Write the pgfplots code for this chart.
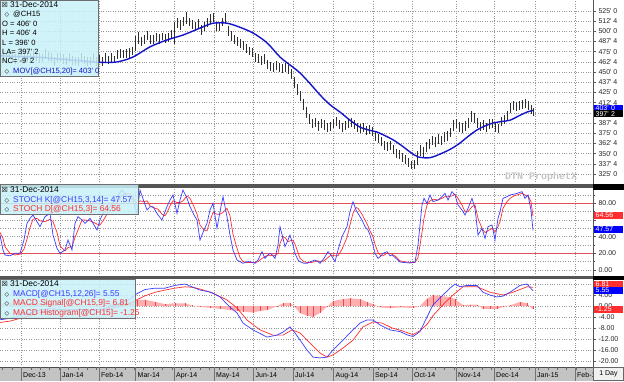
\documentclass[border=0pt]{standalone}
\usepackage{pgfplots}
\pgfplotsset{compat=1.18}
\usepackage{pgfplotstable}
\usepackage{fontspec}
\setmainfont{Liberation Sans}
\newfontfamily\dejavu{DejaVu Sans}
\newfontfamily\monof{Liberation Mono}

\definecolor{legbg}{RGB}{200,240,248}
\definecolor{legbd}{RGB}{110,110,110}
\definecolor{barc}{RGB}{45,45,45}
\definecolor{mablue}{RGB}{20,20,200}
\definecolor{kblue}{RGB}{60,60,255}
\definecolor{dred}{RGB}{255,45,45}
\definecolor{histred}{RGB}{240,70,70}
\definecolor{histfill}{RGB}{255,175,175}
\definecolor{lvlred}{RGB}{225,80,90}
\definecolor{gridc}{RGB}{150,150,150}
\definecolor{sepc}{RGB}{85,85,85}
\definecolor{stripc}{RGB}{195,195,195}

\pgfdeclareplotmark{closetick}{\pgfpathmoveto{\pgfpoint{0pt}{0pt}}\pgfpathlineto{\pgfpoint{1.3pt}{0pt}}\pgfusepathqstroke}
\newcommand{\q}[2]{#1\textquotesingle\ #2}
\newcommand{\lf}{\fontsize{7.6}{9}\selectfont}
\newcommand{\lgf}{\fontsize{8.4}{9}\selectfont}
\newcommand{\tf}{\fontsize{7}{8}\selectfont}
\newcommand{\ic}{{\dejavu\fontsize{6}{6}\selectfont ◇}}
\newcommand{\bx}{{\dejavu\fontsize{7}{7}\selectfont ☒}}

\pgfplotstableread{
x hi lo cl
0 473 462 468
3 472 462 466
6 473 462 469
9 478 466 471
12 473 463 468
15 472 460 466
18 474 465 470
21 479 468 472
24 474 463 469
27 473 463 467
30 474 463 470
33 478 466 471
36 474 464 469
39 473 461 467
42 472 463 468
45 478 467 471
48 475 464 470
51 473 463 467
54 469 458 465
57 474 462 467
60 474 464 469
63 472 460 466
66 468 459 464
69 473 462 466
72 470 459 465
75 469 459 463
78 469 458 465
81 474 462 467
84 470 460 465
87 469 457 463
90 468 459 464
93 473 462 466
96 469 458 464
99 471 461 465
102 468 457 464
105 473 461 466
108 470 460 465
111 473 461 467
114 470 461 466
117 477 466 470
120 478 467 473
123 477 467 471
126 478 467 474
129 479 467 472
132 481 471 476
135 494 476 488
138 499 485 492
141 493 482 486
144 495 484 490
147 500 490 494
150 495 484 491
153 496 484 489
156 498 488 493
159 497 485 491
162 498 489 494
165 497 486 490
168 498 487 493
171 502 492 496
174 512 484 505
177 517 504 510
180 514 502 508
183 518 507 512
186 524 509 516
189 517 506 511
192 514 503 508
195 512 500 506
198 515 503 510
201 508 496 502
204 512 501 506
207 516 505 511
210 521 509 515
213 522 511 517
216 512 501 506
219 511 500 505
222 517 506 512
225 523 510 516
228 507 494 500
231 500 488 494
234 495 484 490
237 493 482 487
240 491 480 485
243 488 477 482
246 484 473 478
249 481 471 476
252 479 468 474
255 473 462 468
258 472 461 466
261 470 459 464
264 472 460 466
267 465 454 460
270 463 451 457
273 461 450 455
276 464 453 458
279 461 450 456
282 460 449 454
285 461 450 456
288 459 448 453
291 454 442 448
294 444 431 437
297 435 422 428
300 427 414 420
303 417 404 410
306 407 394 400
309 399 386 392
312 393 381 386
315 394 383 388
318 390 378 384
321 393 381 387
324 391 379 385
327 388 377 382
330 389 378 384
333 393 382 387
336 395 384 389
339 391 380 385
342 388 377 382
345 390 379 384
348 393 381 387
351 394 383 389
354 391 380 385
357 388 377 383
360 386 375 380
363 387 376 381
366 384 373 378
369 385 374 380
372 383 372 377
375 378 366 372
378 374 363 368
381 370 359 364
384 366 355 360
387 364 353 358
390 366 355 361
393 361 350 355
396 356 345 350
399 354 343 348
402 351 340 346
405 348 337 342
408 344 333 338
411 341 331 336
414 342 331 336
417 353 336 348
420 360 347 354
423 358 346 352
426 364 352 359
429 368 356 362
432 372 360 366
435 370 358 364
438 374 362 368
441 372 360 366
444 376 364 370
447 378 366 372
450 382 370 376
453 391 378 385
456 393 382 388
459 389 377 383
462 387 375 381
465 390 378 384
468 394 382 388
471 402 389 396
474 400 388 394
477 394 382 388
480 389 378 383
483 391 379 385
486 388 377 382
489 392 380 386
492 393 382 388
495 389 377 383
498 386 375 380
501 395 384 390
504 397 386 392
507 402 390 396
510 412 400 406
513 414 403 409
516 413 402 407
519 415 404 409
522 416 405 410
525 417 406 411
528 414 403 408
531 410 399 404
533 406.5 396 397.25
}\price

\pgfplotstableread{
x ma
0 470
20 469
40 468
60 466
80 464
100 462
117 462.5
133 468.5
150 481
167 489.5
183 495.5
200 504
213 510
227 510
240 505
253 498
267 486
280 468.5
293 456
300 449
310 436
320 422
330 410
340 401
350 391
360 382.5
370 378.5
377 376.5
385 372
393 367
402 359.5
410 352
418 346
430 345
443 351
452 356.5
460 363
468 371
477 379
485 384
493 387.5
502 389.5
510 391
520 397
527 401
533 403
}\mav

\pgfplotstableread{
x k d
0 42 45
3 24 38
5 18 28
10 17 20
15 20 18
20 20 19
24 36 25
27 56 37
30 62 51
33 66 61
37 58 62
40 52 59
45 64 58
50 68 61
53 42 58
57 26 45
60 20 29
65 24 23
68 36 27
72 24 28
75 56 39
78 64 48
82 60 60
85 56 60
90 62 59
94 54 57
97 48 55
100 60 54
103 68 59
107 72 67
110 76 72
115 84 77
119 91 84
122 96 90
126 90 92
130 86 91
133 84 87
137 68 79
140 96 83
144 82 82
147 72 83
150 76 77
153 76 75
158 66 73
162 60 67
165 70 65
167 76 69
170 84 77
173 90 83
177 68 81
180 84 81
183 96 83
187 86 89
190 76 86
194 66 76
197 60 67
200 36 54
204 48 48
207 56 47
210 72 59
213 80 69
217 50 67
220 70 67
223 88 69
227 64 74
230 42 65
233 24 43
237 12 26
240 10 15
243 8 10
247 10 9
250 10 9
255 8 9
258 12 10
262 22 14
265 14 16
268 18 18
270 20 17
273 17 18
275 14 17
278 30 20
280 52 32
283 38 40
285 28 39
288 36 34
290 42 35
293 30 36
295 20 31
298 12 21
300 10 14
304 8 10
307 8 9
311 10 9
315 12 10
318 10 11
320 8 10
324 14 11
328 22 15
331 18 18
335 10 17
338 24 17
342 40 25
347 52 39
350 70 54
353 82 68
356 72 75
358 68 74
362 60 67
365 52 60
368 48 53
370 42 47
373 30 40
375 20 31
378 14 21
381 17 17
383 20 17
387 22 20
390 17 20
392 18 19
396 14 16
400 9.6 11
404 9 10
410 8.4 9
415 9.6 9
418 30 15
422 78 45
424 86 62
427 80 78
430 90 83
433 82 85
438 84 84
442 88 86
445 92 88
448 84 88
452 94 89
455 90 91
458 78 86
462 72 78
465 66 70
468 74 70
472 86 76
475 74 78
478 42 62
482 50 50
485 38 45
488 52 47
492 54 50
495 36 46
498 62 52
500 70 58
503 86 74
507 88 82
510 90 86
514 91 89
517 92 90
522 94 92
525 86 90
528 90 89
531 72 82
533 47.57 64.56
}\stoch

\pgfplotstableread{
x m
0 -5
10 -4.5
20 -3.5
30 -2.5
40 -1.5
50 -1
60 -1.2
70 -1.5
80 -1.2
90 -1.5
100 -1.2
110 -0.5
120 1
130 2.5
137 4.5
145 6
155 6.5
165 6.5
175 7.5
185 8
192 7
200 5.8
210 5.1
220 3.3
230 -0.4
237 -2.5
243 -6.2
253 -8.7
260 -10
267 -11.3
277 -10.6
283 -9.5
290 -7.6
295 -9.8
300 -12.4
307 -16
313 -18.6
320 -18.9
327 -18.6
333 -16
340 -13.5
350 -9.8
360 -6.2
367 -5.1
373 -5.1
380 -6.9
390 -8.7
400 -9.3
407 -10.5
413 -11.1
420 -9.3
427 -4
433 0.4
440 3
450 6.5
455 8
460 7
467 7.5
477 7.5
483 5
490 4
497 3.3
503 3.6
510 5
520 7.5
527 8
533 5.55
}\macdline

\pgfplotstableread{
x s
0 -6
10 -5.5
20 -4.5
30 -3.5
40 -2.5
50 -1.8
60 -1.3
70 -1.3
80 -1.4
90 -1.3
100 -1.3
110 -1
120 0
130 1
137 2.3
145 3.7
155 5
165 5.8
175 6.5
185 7
192 6.8
200 6.2
213 4.7
227 2.2
237 -0.7
247 -5.1
260 -8.7
273 -10.6
283 -10.6
292 -8.7
300 -9.8
310 -13.5
320 -17.1
327 -18.6
333 -17.8
343 -15.3
353 -12.4
363 -7.6
373 -5.8
382 -6.2
392 -8
400 -8.8
413 -10.4
420 -9
427 -6.7
433 -3.5
440 -0.7
447 2
453 4
463 7
477 7
490 5
503 4
513 5
520 6
527 7
533 6.81
}\signal

\pgfplotstableread{
x h
0 1
20 1
40 1
50 0.8
60 0.1
70 -0.2
80 0.2
90 -0.2
100 0.1
110 0.5
120 1
130 1.5
137 2.2
145 2.3
155 1.5
165 0.7
175 1
185 1
192 0.2
200 -0.4
210 -0.6
220 -1
230 -1.5
237 -1.8
243 -2
253 -2.4
260 -1.8
267 -1.5
277 -0.1
283 1
290 1.2
295 -0.5
300 -2.6
307 -3.5
313 -4
320 -2.5
327 -0.3
333 1.8
343 2.5
350 2.8
360 2.5
367 1.5
373 0.7
380 -0.5
390 -0.8
400 -0.5
413 -0.7
420 0
427 2.7
433 3.9
440 3.7
450 3.2
455 2.5
463 0.3
470 0.5
477 0.5
483 -1
490 -1
497 -1
503 -0.4
510 0.2
520 1.5
527 1
533 -1.26
}\hist

\pgfplotsset{
  panel/.style={
    scale only axis, width=593pt, xmin=0, xmax=593,
    anchor=south west,
    axis x line*=bottom, axis y line*=right,
    x axis line style={draw=none},
    y axis line style={draw=sepc, line width=0.6pt},
    xtick={21,60,99,135.5,174,214,253.5,293,333.5,373,412,456,494,535,575},
    xticklabels={}, major x tick style={draw=none},
    xmajorgrids, ymajorgrids,
    grid style={gridc, dotted, line width=0.5pt},
    tick align=outside, major tick length=2.5pt, minor tick length=1.5pt,
    tick style={sepc, line width=0.5pt},
    yticklabel style={font=\tf, text=black!85, xshift=-0.5pt},
  }
}

\begin{document}
\begin{tikzpicture}[x=1pt,y=1pt]
\useasboundingbox (0,0) rectangle (624,381);
\fill[white] (0,0) rectangle (624,381);

% ---------- price panel ----------
\begin{axis}[panel, at={(0pt,197pt)}, height=184pt,
  ymin=312.7, ymax=538.5,
  ytick={325,337.5,...,525},
  yticklabels={\q{325}{0},\q{337}{4},\q{350}{0},\q{362}{4},\q{375}{0},\q{387}{4},{},\q{412}{4},\q{425}{0},\q{437}{4},\q{450}{0},\q{462}{4},\q{475}{0},\q{487}{4},\q{500}{0},\q{512}{4},\q{525}{0}}]
\addplot[only marks, mark=closetick, mark options={barc, line width=0.5pt},
  error bars/.cd, y dir=both, y explicit, error mark=none,
  error bar style={barc, line width=0.9pt}]
  table[x=x, y=cl, y error plus expr=\thisrow{hi}-\thisrow{cl}, y error minus expr=\thisrow{cl}-\thisrow{lo}] {\price};
\addplot[mablue, line width=1.4pt, smooth, no markers] table[x=x, y=ma] {\mav};
\end{axis}

% ---------- stochastics panel ----------
\begin{axis}[panel, at={(0pt,105pt)}, height=88.5pt,
  ymin=-7.2, ymax=99,
  ytick={0,20,40,60,80}, yticklabels={0.00,20.00,40.00,{},80.00},
  minor ytick={10,30,50,70,90}, yminorgrids,
  minor grid style={gridc, dotted, line width=0.5pt}]
\addplot[lvlred, line width=0.8pt, no markers] coordinates {(0,80) (593,80)};
\addplot[lvlred, line width=0.8pt, no markers] coordinates {(0,20) (593,20)};
\addplot[dred, line width=0.7pt, no markers] table[x=x, y=d] {\stoch};
\addplot[kblue, line width=0.7pt, no markers] table[x=x, y=k] {\stoch};
\end{axis}

% ---------- MACD panel ----------
\begin{axis}[panel, at={(0pt,14pt)}, height=88pt,
  ymin=-22.2, ymax=9.83,
  ytick={-20,-16,...,8}, yticklabels={-20.00,-16.00,-12.00,-8.00,-4.00,0.00,4.00,{}}]
\addplot[draw=none, fill=histfill] table[x=x, y=h] {\hist} \closedcycle;
\addplot[histred, ycomb, line width=0.6pt, no markers] table[x=x, y=h] {\hist};
\addplot[dred, line width=0.7pt, no markers] table[x=x, y=s] {\signal};
\addplot[kblue, line width=0.7pt, no markers] table[x=x, y=m] {\macdline};
\end{axis}

% ---------- watermark ----------
\node[anchor=base west, inner sep=0, text=gray!45, font=\monof\bfseries\fontsize{10}{10}\selectfont] at (505,202) {DTN ProphetX};

% ---------- separators ----------
\fill[sepc] (0,193.5) rectangle (593,197);
\fill[black] (593,191.5) rectangle (624,197.5);
\fill[sepc] (0,102) rectangle (593,105);
\fill[black] (593,101) rectangle (624,105.5);

% ---------- legends ----------
\fill[legbg, fill opacity=0.85] (0,305) rectangle (98,381);
\draw[legbd, line width=0.6pt] (0.3,305) rectangle (98,380.7);
\node[anchor=base west, inner sep=0] at (1.5,373.4) {\bx};
\node[anchor=base west, inner sep=0, font=\fontsize{8.3}{9}\selectfont] at (10,373.4) {31-Dec-2014};
\node[anchor=base west, inner sep=0] at (4.5,364) {\ic};
\node[anchor=base west, inner sep=0, font=\lf] at (13,364) {@CH15};
\node[anchor=base west, inner sep=0, font=\lf] at (2,354.6) {O = \q{406}{0}};
\node[anchor=base west, inner sep=0, font=\lf] at (2,345.2) {H = \q{406}{4}};
\node[anchor=base west, inner sep=0, font=\lf] at (2,335.8) {L = \q{396}{0}};
\node[anchor=base west, inner sep=0, font=\lf] at (2,326.4) {LA= \q{397}{2}};
\node[anchor=base west, inner sep=0, font=\lf] at (2,317) {NC= -\q{9}{2}};
\node[anchor=base west, inner sep=0] at (4.5,307.6) {\ic};
\node[anchor=base west, inner sep=0, font=\lf, text=mablue] at (13,307.6) {MOV[@CH15,20]= \q{403}{0}};

\fill[legbg, fill opacity=0.85] (0,167) rectangle (138,196.5);
\draw[legbd, line width=0.6pt] (0.3,167) rectangle (138,196.5);
\node[anchor=base west, inner sep=0] at (1.5,188.4) {\bx};
\node[anchor=base west, inner sep=0, font=\lgf] at (10,188.4) {31-Dec-2014};
\node[anchor=base west, inner sep=0] at (4.5,178.5) {\ic};
\node[anchor=base west, inner sep=0, font=\lgf, text=kblue] at (13,178.5) {STOCH K[@CH15,3,14]= 47.57};
\node[anchor=base west, inner sep=0] at (4.5,169.5) {\ic};
\node[anchor=base west, inner sep=0, font=\lgf, text=dred] at (13,169.5) {STOCH D[@CH15,3]= 64.56};

\fill[legbg, fill opacity=0.85] (0,63) rectangle (135,101.5);
\draw[legbd, line width=0.6pt] (0.3,63) rectangle (135,101.5);
\node[anchor=base west, inner sep=0] at (1.5,94.4) {\bx};
\node[anchor=base west, inner sep=0, font=\lgf] at (10,94.4) {31-Dec-2014};
\node[anchor=base west, inner sep=0] at (4.5,85) {\ic};
\node[anchor=base west, inner sep=0, font=\lgf, text=kblue] at (13,85) {MACD[@CH15,12,26]= 5.55};
\node[anchor=base west, inner sep=0] at (4.5,75.4) {\ic};
\node[anchor=base west, inner sep=0, font=\lgf, text=dred] at (13,75.4) {MACD Signal[@CH15,9]= 6.81};
\node[anchor=base west, inner sep=0] at (4.5,66) {\ic};
\node[anchor=base west, inner sep=0, font=\lgf, text=dred] at (13,66) {MACD Histogram[@CH15]= -1.25};

% ---------- value boxes ----------
\tikzset{vbox/.style={anchor=west, inner sep=0pt, inner xsep=2pt, minimum width=29pt, minimum height=7pt, text=white, font=\tf, align=left, text width=25pt}}
\node[vbox, fill=blue] at (593.5,272.5) {\q{403}{0}};
\node[vbox, fill=black] at (593.5,267) {\q{397}{2}};
\node[vbox, fill=dred] at (593.5,166) {64.56};
\node[vbox, fill=blue] at (593.5,151.5) {47.57};
\node[vbox, fill=dred] at (593.5,97) {6.81};
\node[vbox, fill=blue] at (593.5,91) {5.55};
\node[vbox, fill=dred] at (593.5,72) {-1.25};

% ---------- date strip ----------
\fill[stripc] (0,0) rectangle (593,14);
\draw[black!70, line width=0.8pt] (0,14) -- (593,14);
\foreach \t in {2.5,11.9,...,592} \draw[black!60, line width=0.4pt] (\t,14) -- (\t,11.5);
\foreach \m in {21,60,99,135.5,174,214,253.5,293,333.5,373,412,456,494,535,575}
  \draw[black!55, line width=0.6pt] (\m,0) -- (\m,14);
\foreach \m/\lab in {21/Dec-13,60/Jan-14,99/Feb-14,135.5/Mar-14,174/Apr-14,214/May-14,253.5/Jun-14,293/Jul-14,333.5/Aug-14,373/Sep-14,412/Oct-14,456/Nov-14,494/Dec-14,535/Jan-15,575/Feb-15}
  \node[anchor=base west, inner sep=0, font=\tf] at (\m+2,3.5) {\lab};
\fill[gray!12] (593,0) rectangle (624,14);
\draw[black!60, line width=0.6pt] (593.3,0.3) rectangle (623.7,14);
\node[font=\tf, inner sep=0] at (608.5,7) {1 Day};
\end{tikzpicture}
\end{document}
